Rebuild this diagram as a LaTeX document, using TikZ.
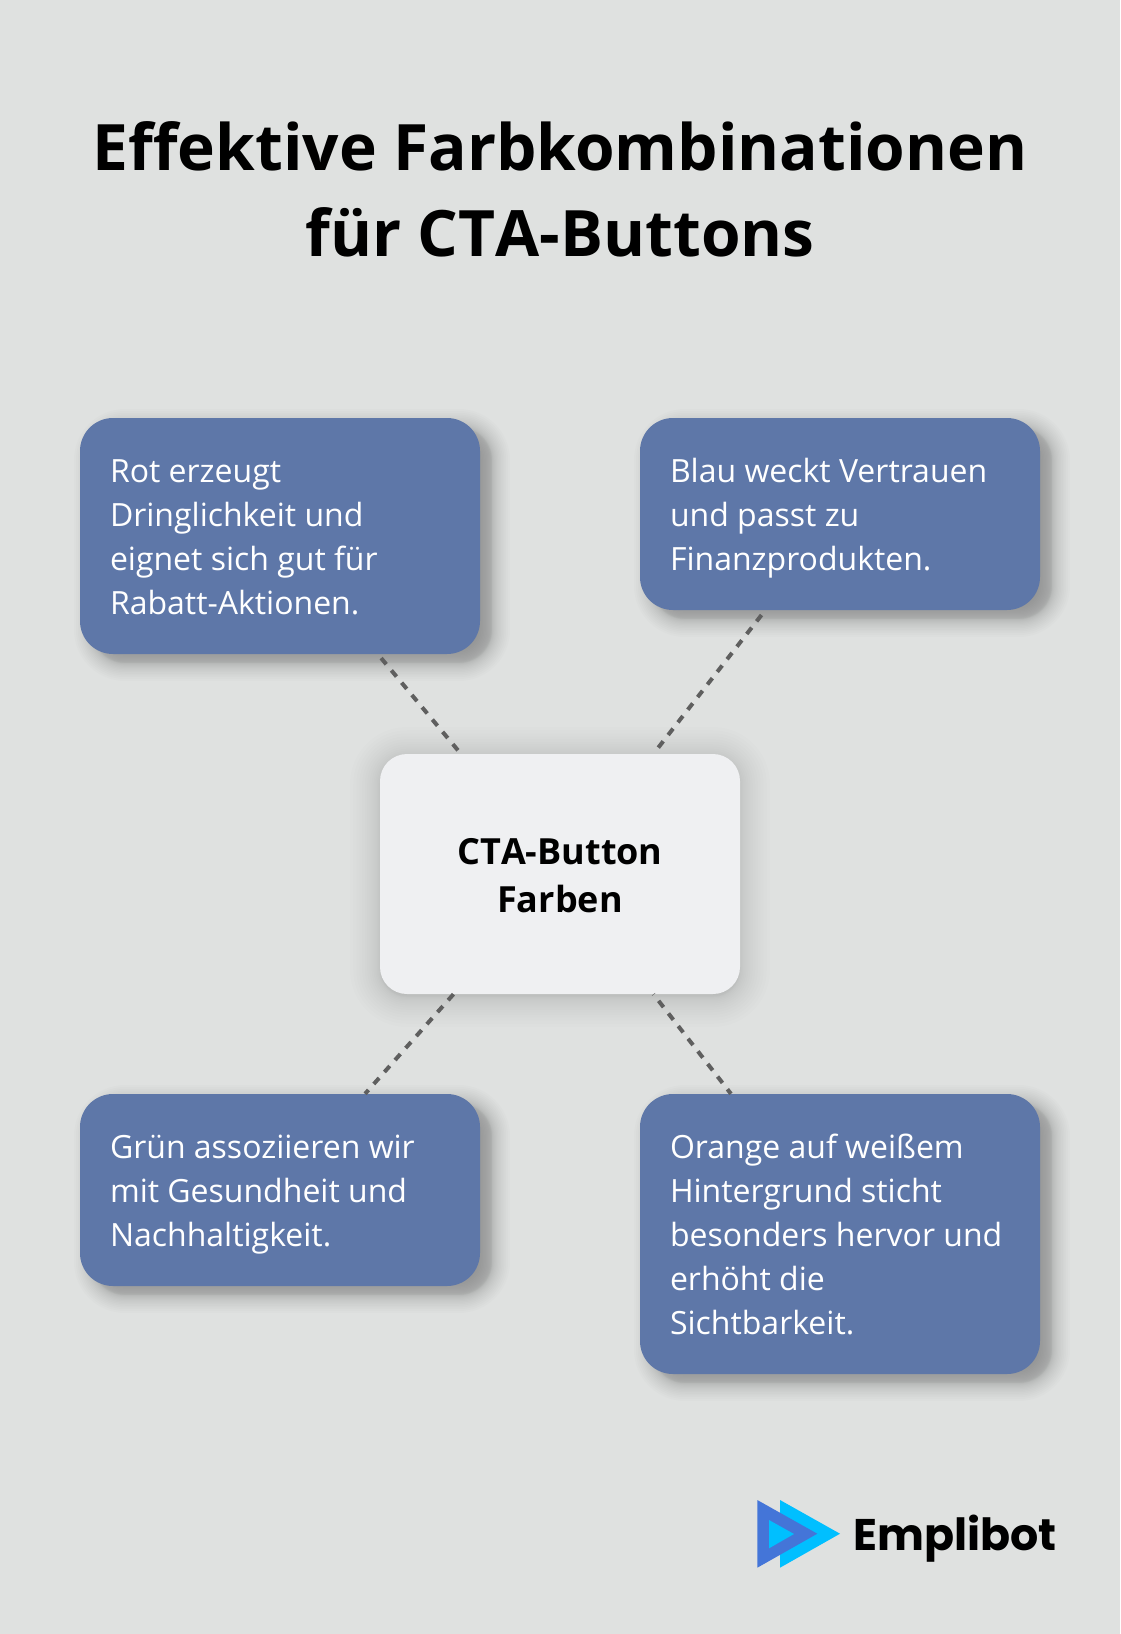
\documentclass[tikz,border=0pt]{standalone}
\usepackage{fontspec}
\setmainfont{Open Sans}
\newfontfamily\logofont{Poppins}
\usetikzlibrary{calc}
\definecolor{bgcol}{HTML}{DFE1E0}
\definecolor{bluebox}{HTML}{5E77A8}
\definecolor{centerbox}{HTML}{EFF0F2}
\definecolor{linkcol}{HTML}{5F5F5F}
\definecolor{logoblue}{HTML}{4475D8}
\definecolor{logocyan}{HTML}{00BFFF}
\newcommand{\softshadow}[8]{% cx cy w h r blur opacity-per-layer layers
  \foreach \i in {1,...,#8}{
    \pgfmathsetmacro{\uu}{1-2*(\i-1)/(#8-1)}
    \pgfmathsetmacro{\infl}{#6*(\uu>=0?1:-1)*pow(abs(\uu),1.6)}
    \pgfmathsetmacro{\rad}{max(#5+\infl,2)}
    \fill[black,fill opacity=#7,rounded corners=\rad pt]
      ({#1-#3/2-\infl},{#2-#4/2-\infl}) rectangle ({#1+#3/2+\infl},{#2+#4/2+\infl});
  }
}
\newcommand{\lst}{\rule{0pt}{35pt}}
\newcommand{\lsb}{\rule[-9.6pt]{0pt}{9.6pt}}
\newcommand{\cst}{\rule{0pt}{37pt}}
\newcommand{\csb}{\rule[-9pt]{0pt}{9pt}}
\tikzset{
  every node/.append style={execute at begin node={\spaceskip=.26em\xspaceskip=.26em\relax}},
  infobox/.style={rectangle,fill=bluebox,text=white,rounded corners=33pt,inner sep=0pt,
    minimum width=400pt,text width=340pt,align=left,
    font=\fontsize{32}{44}\selectfont},
  hubbox/.style={rectangle,fill=centerbox,text=black,rounded corners=27pt,inner sep=0pt,
    minimum width=360pt,minimum height=240pt,text width=340pt,align=center,
    font=\fontsize{36}{48}\selectfont\bfseries},
  titletext/.style={inner sep=0pt,text=black,align=center,text width=1100pt,
    font=\fontsize{64}{86.5}\selectfont\bfseries},
  logotext/.style={inner sep=0pt,anchor=base west,text=black,font=\fontsize{44.3}{50}\selectfont\logofont\bfseries},
  link/.style={draw=linkcol,line width=4pt,dash pattern=on 8pt off 8pt}
}
\begin{document}
\begin{tikzpicture}[x=1pt,y=-1pt]
\fill[bgcol] (0,0) rectangle (1120,1634);
\useasboundingbox (0,0) rectangle (1120,1634);
\softshadow{292}{545}{400}{236}{33}{18}{0.010}{30}
\softshadow{852}{523}{400}{192}{33}{18}{0.010}{30}
\softshadow{292}{1199}{400}{192}{33}{18}{0.010}{30}
\softshadow{852}{1243}{400}{280}{33}{18}{0.010}{30}
\softshadow{560}{877}{360}{240}{27}{30}{0.0095}{30}
\node[titletext] (title) at (560,189.5) {Effektive Farbkombinationen\\für CT\kern0pt A-Buttons};
\node[hubbox] (hub) at (560,874) {\cst CT\kern0pt A-Button\\Farben\csb};
\node[infobox,minimum height=236pt] (rot) at (280,536) {\lst Rot erzeugt\\Dringlichkeit und\\eignet sich gut für\\Rabatt-Aktionen.\lsb};
\node[infobox,minimum height=192pt] (blau) at (840,514) {\lst Blau weckt Vertrauen\\und passt zu\\Finanzprodukten.\lsb};
\node[infobox,minimum height=192pt] (gruen) at (280,1190) {\lst Grün assoziieren wir\\mit Gesundheit und\\Nachhaltigkeit.\lsb};
\node[infobox,minimum height=280pt] (orange) at (840,1234) {\lst Orange auf weißem\\Hintergrund sticht\\besonders hervor und\\erhöht die\\Sichtbarkeit.\lsb};
\draw[link,dash phase=10.9pt] (rot) -- (hub);
\draw[link,dash phase=9.9pt] (blau) -- (hub);
\draw[link] (hub) -- (gruen);
\draw[link,dash phase=7.6pt] (hub) -- (orange);
\fill[logocyan] (780,1500) -- (780,1567.7) -- (840,1533.7) -- cycle;
\fill[logoblue] (757.3,1500) -- (757.3,1567.7) -- (817.3,1533.7) -- cycle;
\fill[logocyan] (769,1520) -- (769,1548.3) -- (794,1534) -- cycle;
\node[logotext] (logo) at (853,1550) {Emplibot};
\end{tikzpicture}
\end{document}
